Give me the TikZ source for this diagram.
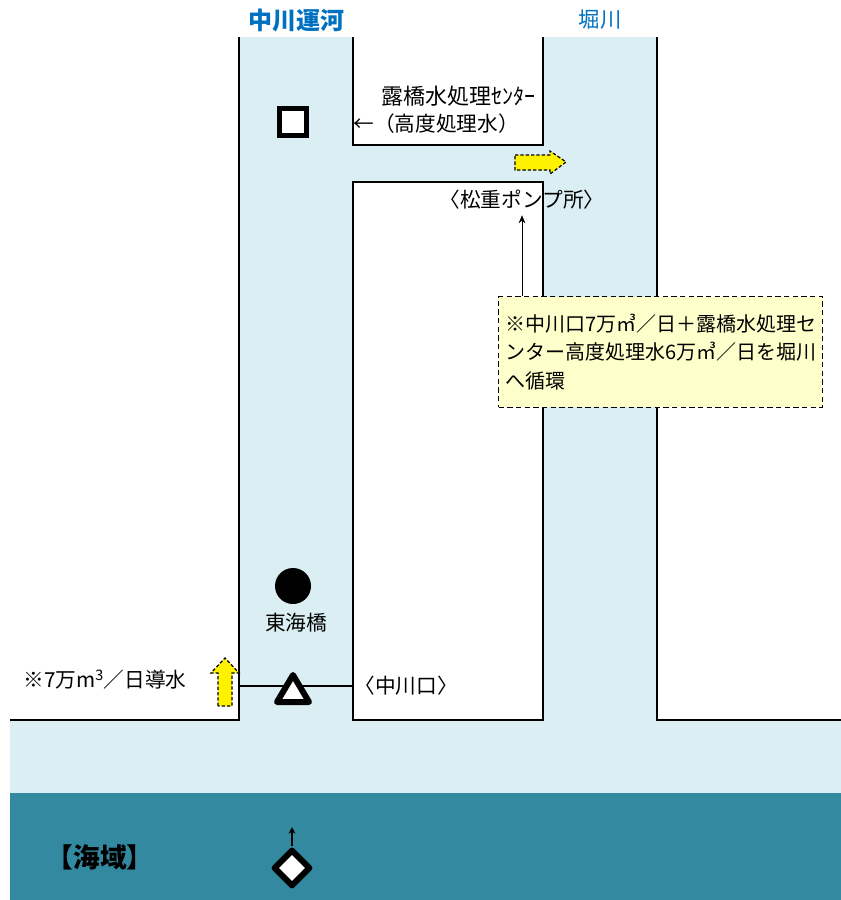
\documentclass[tikz,border=0pt]{standalone}
\usepackage{fontspec}
\setmainfont{Noto Sans CJK JP}
\usetikzlibrary{positioning}
\usetikzlibrary{calc}
\usetikzlibrary{arrows.meta}
\usetikzlibrary{shapes.geometric}
\definecolor{kawa}{RGB}{218,238,243}
\definecolor{umi}{RGB}{50,137,160}
\definecolor{midashi}{RGB}{0,112,192}
\definecolor{memo}{RGB}{255,255,204}
\tikzset{
  kishi/.style={line width=1.5pt},
  lbl/.style={font=\fontsize{15.5}{18}\selectfont, inner sep=0pt},
  yarrow/.style={draw, fill=yellow, line width=0.9pt, dash pattern=on 2.5pt off 1.5pt},
  sokutei/.style={draw, fill=white, line width=4.5pt, line join=round}
}
\begin{document}
\begin{tikzpicture}[x=0.75pt,y=-0.75pt]
            \useasboundingbox (0,0) rectangle (841,900);
            % water
            \fill[kawa] (239,37) rectangle (353,720);
            \fill[kawa] (543,37) rectangle (657,720);
            \fill[kawa] (353,145) rectangle (543,182);
            \fill[kawa] (10,720) rectangle (841,793);
            \fill[umi] (10,793) rectangle (841,900);
            % banks
            \draw[kishi] (10,720) -- (239,720) -- (239,37);
            \draw[kishi] (353,37) -- (353,145) -- (543,145) -- (543,37);
            \draw[kishi] (353,182) rectangle (543,720);
            \draw[kishi] (657,37) -- (657,720) -- (841,720);
            \draw[kishi] (239,686) coordinate (G1) -- (353,686) coordinate (G2);
            % titles
            \node[font=\fontsize{18}{20}\selectfont\bfseries, text=midashi] (nakagawa) at (296,20) {中川運河};
            \node[font=\fontsize{16}{18}\selectfont, text=midashi] (horikawa) at (600,20) {堀川};
            % marks
            \node[draw, fill=white, line width=4pt, minimum size=20pt, inner sep=0pt] (sq) at (293,122) {};
            \node[circle, fill=black, minimum size=27pt, inner sep=0pt] (higashi) at (293,586) {};
            \draw[sokutei] (277,702) coordinate (T1) -- (309,702) coordinate (T2) -- (293,675) coordinate (T3) -- cycle;
            \node[diamond, sokutei, minimum size=28pt, inner sep=0pt] (sea) at (292,868) {};
            \coordinate (seaup) at (292,827);
            \draw[-{Stealth[length=5pt,width=5pt]}, line width=1.2pt] (sea.north) -- (seaup);
            % yellow arrows
            \draw[yarrow] (218,706) -- (218,673) -- (211,673) -- (225,658) -- (239,673) -- (232,673) -- (232,706) -- cycle;
            \draw[yarrow] (515,155) -- (550,155) -- (550,151) -- (566,162) -- (550,174) -- (550,170) -- (515,170) -- cycle;
            % labels
            \node[lbl, font=\fontsize{16.5}{18}\selectfont] (roba) at (458,96) {露橋水処理ｾﾝﾀｰ};
            \node[lbl] (kodo) at (436,124) {←（高度処理水）};
            \node[lbl] (pump) at (522,200) {〈松重ポンプ所〉};
            \node[lbl] (tokai) at (296,623) {東海橋};
            \node[lbl] (donyu) at (105,680) {※7万m\textsuperscript{3}／日導水};
            \node[lbl, right=1pt of G2] (guchi) {〈中川口〉};
            \node[font=\fontsize{20}{22}\selectfont\bfseries, inner sep=0pt] (kaiiki) at (100,857) {【海域】};
            % note
            \node[draw, line width=1.1pt, dash pattern=on 4pt off 2.5pt, fill=memo, align=left, anchor=north west,
                  minimum width=243pt, minimum height=83pt, inner xsep=1pt, inner ysep=2pt,
                  font=\fontsize{15}{21.5}\selectfont] (memo) at (498,296)
                  {※中川口7万㎥／日＋露橋水処理セ\\ンター高度処理水6万㎥／日を堀川\\へ循環};
            \draw[-{Stealth[length=6pt,width=5pt]}] (memo.north -| pump.south) -- ([yshift=-4pt]pump.south);
\end{tikzpicture}
\end{document}
